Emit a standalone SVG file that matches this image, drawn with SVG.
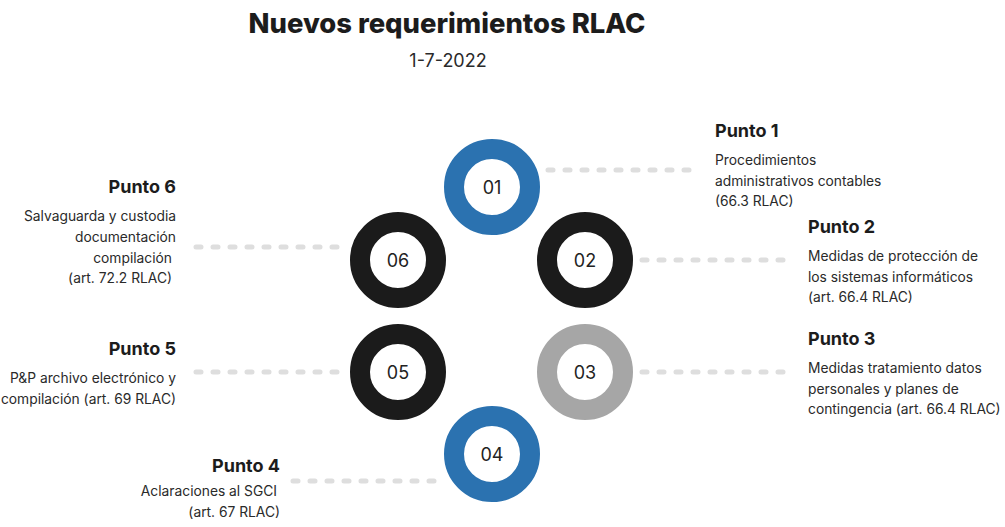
<svg xmlns="http://www.w3.org/2000/svg" width="1005" height="527" viewBox="0 0 1005 527">
<style>
text{font-family:Inter,"Noto Sans","Liberation Sans",sans-serif;fill:#1c1c1c}
.title{font-size:27.4px;font-weight:800;text-anchor:middle}
.sub{font-size:18px;text-anchor:middle;fill:#2a2a2a}
.h{font-size:18px;font-weight:700}
.b{font-size:13.8px;fill:#2a2a2a}
.r{text-anchor:end}
.num{font-size:18px;text-anchor:middle;fill:#222}
.ring{fill:none;stroke-width:20}
.blue{stroke:#2b72b0}
.black{stroke:#1b1b1b}
.gray{stroke:#a6a6a6}
.dots{stroke:#dedede;stroke-width:5;stroke-linecap:round;stroke-dasharray:5 12;fill:none}
</style>
<rect width="1005" height="527" fill="#ffffff"/>
<text class="title" x="447" y="33">Nuevos requerimientos RLAC</text>
<text class="sub" x="448" y="67">1-7-2022</text>
<g id="connectors">
<line class="dots" x1="548" y1="170" x2="700" y2="170"/>
<line class="dots" x1="642" y1="260" x2="792" y2="260"/>
<line class="dots" x1="642" y1="372" x2="792" y2="372"/>
<line class="dots" x1="293" y1="481" x2="440" y2="481"/>
<line class="dots" x1="196" y1="372" x2="344" y2="372"/>
<line class="dots" x1="196" y1="247" x2="344" y2="247"/>
</g>
<g id="node-01">
<circle class="ring blue" cx="492" cy="187" r="38"/>
<text class="num" x="492" y="194">01</text>
</g>
<g id="node-02">
<circle class="ring black" cx="585" cy="260" r="38"/>
<text class="num" x="585" y="267">02</text>
</g>
<g id="node-03">
<circle class="ring gray" cx="585" cy="372" r="38"/>
<text class="num" x="585" y="379">03</text>
</g>
<g id="node-04">
<circle class="ring blue" cx="492" cy="454" r="38"/>
<text class="num" x="492" y="461">04</text>
</g>
<g id="node-05">
<circle class="ring black" cx="398" cy="372" r="38"/>
<text class="num" x="398" y="379">05</text>
</g>
<g id="node-06">
<circle class="ring black" cx="398" cy="260" r="38"/>
<text class="num" x="398" y="267">06</text>
</g>
<g id="label-1">
<text class="h" x="715" y="137">Punto 1</text>
<text class="b" x="715" y="165">Procedimientos</text>
<text class="b" x="715" y="186">administrativos contables</text>
<text class="b" x="715" y="206">(66.3 RLAC)</text>
</g>
<g id="label-2">
<text class="h" x="808" y="233">Punto 2</text>
<text class="b" x="808" y="261">Medidas de protección de</text>
<text class="b" x="808" y="282">los sistemas informáticos</text>
<text class="b" x="808" y="302">(art. 66.4 RLAC)</text>
</g>
<g id="label-3">
<text class="h" x="808" y="345">Punto 3</text>
<text class="b" x="808" y="373">Medidas tratamiento datos</text>
<text class="b" x="808" y="394">personales y planes de</text>
<text class="b" x="808" y="414">contingencia (art. 66.4 RLAC)</text>
</g>
<g id="label-4">
<text class="h r" x="280" y="472">Punto 4</text>
<text class="b r" x="277" y="496">Aclaraciones al SGCI</text>
<text class="b r" x="280" y="517">(art. 67 RLAC)</text>
</g>
<g id="label-5">
<text class="h r" x="176" y="355">Punto 5</text>
<text class="b r" x="176" y="383">P&amp;P archivo electrónico y</text>
<text class="b r" x="176" y="404">compilación (art. 69 RLAC)</text>
</g>
<g id="label-6">
<text class="h r" x="176" y="193">Punto 6</text>
<text class="b r" x="176" y="221">Salvaguarda y custodia</text>
<text class="b r" x="176" y="242">documentación</text>
<text class="b r" x="172" y="263">compilación</text>
<text class="b r" x="172" y="283">(art. 72.2 RLAC)</text>
</g>
</svg>
